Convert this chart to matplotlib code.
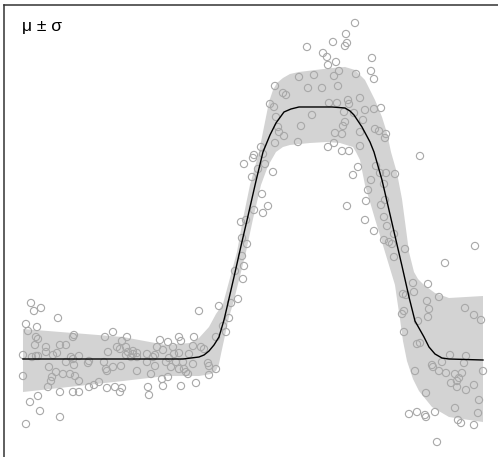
import numpy as np
from matplotlib import pyplot as plt

# observed points
x_obs = [2.84, 3.00, 3.04, 3.05, 3.10, 2.76, 2.91, 2.52, 2.60, 2.63, 2.85, 2.99, 3.06, 2.47, 2.51,
         2.89, 2.53, 2.78, 2.55, 2.56, 2.61, 2.75, 2.52, 3.05, 2.38,
         3.32, 3.23, 3.24, 3.22, 3.13, 3.49, 3.48, 3.51, 3.33, 3.16, 3.11, 3.15, 3.14, 3.25, 3.26,
         3.37, 3.42, 3.51, 3.58, 3.21, 3.31, 3.40, 3.22, 3.20, 3.12, 3.19, 3.37, 3.52, 3.56, 3.63,
         3.62, 3.11, 3.37, 3.19, 3.26, 3.97,
         2.31, 2.30, 2.40, 2.21, 2.42, 2.35, 2.50, 2.29, 2.39, 2.45, 2.31, 2.40, 2.23, 2.18, 2.19,
         2.24, 2.19, 2.21, 2.12, 2.20, 2.15, 2.08, 1.96,
         3.35, 3.30, 3.53, 3.57, 3.63, 3.72, 3.48, 3.61, 3.45, 3.43, 3.24, 3.62, 3.58, 3.61, 3.42,
         3.64, 3.51, 3.71, 3.61, 3.66, 3.69, 3.82, 3.71, 4.52, 4.22, 3.90, 4.05, 3.80, 3.83, 3.91,
         4.16, 4.04,
         0.08, 0.11, 0.18, 0.35, 0.03, 0.05, 0.14, 0.13, 0.15, 0.12, 0.23, 0.23, 0.00, 0.09, 0.13,
         0.15, 0.30, 0.34, 0.37, 0.43, 0.50, 0.51, 0.48, 0.50, 0.56, 0.43, 0.51, 0.66, 0.65, 0.26,
         0.33, 0.40, 0.47, 0.52, 0.29, 0.28, 0.56, 0.00, 0.25, 0.37, 0.50, 0.56, 0.66, 0.71, 0.76,
         0.84, 0.92, 0.97, 0.99, 0.15, 0.07, 0.17, 0.37, 0.03, 0.82, 0.90, 0.85, 0.81, 0.83, 0.84,
         0.90, 0.98, 0.94, 0.97, 0.99, 1.04, 1.03, 1.05, 1.10, 1.10, 1.14, 1.14, 1.03, 1.08, 1.14,
         1.24, 1.24, 1.25, 1.26, 1.30, 1.32, 1.28, 1.37, 1.34, 1.40, 1.39, 1.40, 1.32,
         1.76, 2.06, 2.00, 2.03, 1.93, 1.56, 1.71, 1.58, 1.45, 1.50, 1.70, 1.78, 1.81, 1.51, 1.56,
         1.66, 1.46, 1.43, 1.53, 1.60, 1.70, 1.48, 1.56, 1.61, 1.63, 1.65, 1.85, 1.86, 1.93, 1.86,
         1.45, 1.58, 1.73,
         3.81, 3.79, 4.06, 4.05, 3.95, 4.42, 4.51, 4.58, 3.81, 3.94, 3.97, 4.27, 4.43, 4.19, 4.41,
         4.09, 4.10, 4.16, 4.23, 4.32, 4.39, 4.36, 4.34, 4.28, 4.34, 4.43, 4.51, 4.60, 3.92, 4.03,
         4.56, 4.32, 3.86, 3.94, 4.02, 4.03, 4.12, 4.55, 4.35, 4.38, 4.51, 4.14]
y_obs = [3.12, 3.06, 3.02, 2.94, 3.17, 2.82, 2.84, 2.73, 2.66, 2.64, 2.71, 2.71, 2.56, 2.55, 2.52,
         2.44, 2.42, 2.33, 2.32, 2.27, 2.23, 2.17, 2.16, 2.12, 2.12,
         3.36, 3.25, 3.16, 3.13, 2.97, 3.01, 2.88, 2.80, 2.85, 2.88, 2.83, 2.73, 2.56, 2.59, 2.55,
         2.61, 2.49, 2.50, 2.51, 2.47, 2.46, 2.39, 2.37, 2.33, 2.26, 2.25, 2.27, 2.30, 2.28, 2.25,
         2.21, 2.16, 2.13, 2.08, 2.08, 2.03,
         2.04, 2.01, 2.05, 1.95, 1.95, 1.90, 1.87, 1.82, 1.65, 1.53, 1.49, 1.46, 1.39, 1.37, 1.21,
         1.15, 1.03, 0.93, 0.88, 0.80, 0.60, 0.56, 0.53,
         1.92, 1.84, 1.93, 1.86, 1.86, 1.85, 1.79, 1.75, 1.69, 1.58, 1.53, 1.59, 1.54, 1.42, 1.39,
         1.33, 1.28, 1.25, 1.19, 1.17, 1.15, 1.10, 1.02, 1.13, 0.96, 0.76, 0.75, 0.65, 0.64, 0.67,
         0.62, 0.58,
         0.56, 0.48, 0.51, 0.41, 0.35, 0.28, 0.32, 0.22, 0.20, 0.14, 0.12, 0.07, 0.04, 0.02, 0.03,
         0.03, 0.04, 0.06, 0.14, 0.14, 0.22, 0.24, 0.02, 0.00, 0.03, -0.03, -0.06, -0.02, -0.04, -0.08,
         -0.13, -0.15, -0.15, -0.17, -0.18, -0.22, -0.22, -0.17, -0.28, -0.33, -0.33, -0.33, -0.28, -0.26, -0.23,
         -0.29, -0.28, -0.33, -0.29, -0.37, -0.43, -0.52, -0.58, -0.65, 0.22, 0.27, 0.07, -0.03, -0.10, -0.12,
         -0.08, -0.07, 0.12, 0.10, 0.18, 0.22, 0.12, 0.07, 0.08, 0.05, 0.06, 0.02, 0.04, 0.02, -0.12,
         0.05, -0.03, -0.28, -0.36, 0.02, -0.07, -0.15, 0.19, 0.12, 0.09, -0.20, -0.27, 0.04,
         0.48, 0.41, 0.33, 0.27, 0.22, 0.22, 0.22, 0.18, 0.17, 0.12, 0.13, 0.12, 0.10, 0.05, 0.06,
         0.05, 0.01, -0.03, -0.03, -0.03, -0.05, -0.08, -0.10, -0.10, -0.13, -0.15, -0.04, -0.07, -0.10, -0.16,
         -0.18, -0.27, -0.24,
         0.48, 0.45, 0.50, 0.42, 0.38, 0.51, 0.44, 0.39, 0.27, 0.15, 0.16, 0.04, 0.03, -0.03, -0.04,
         -0.06, -0.08, -0.12, -0.14, -0.15, -0.14, -0.19, -0.22, -0.24, -0.28, -0.31, -0.26, -0.12, -0.12, -0.34,
         -0.41, -0.49, -0.55, -0.53, -0.56, -0.58, -0.53, -0.54, -0.61, -0.64, -0.66, -0.83]

# fitted mean
x_mu = [0.00, 1.00, 1.60, 1.76, 1.81, 1.86, 1.91, 1.96, 2.01, 2.05, 2.11, 2.18, 2.25, 2.33, 2.40,
        2.47, 2.53, 2.61, 2.68, 2.76, 3.09, 3.22, 3.27, 3.31, 3.39, 3.47, 3.51, 3.59, 3.66, 3.72,
        3.79, 3.86, 3.92, 4.01, 4.06, 4.12, 4.19, 4.26, 4.60]
y_mu = [0.00, 0.00, 0.00, 0.02, 0.04, 0.08, 0.14, 0.22, 0.39, 0.56, 0.82, 1.13, 1.43, 1.78, 2.07,
        2.24, 2.36, 2.47, 2.50, 2.52, 2.52, 2.51, 2.48, 2.44, 2.32, 2.17, 2.07, 1.79, 1.49, 1.23,
        0.93, 0.62, 0.38, 0.22, 0.12, 0.05, 0.01, 0.00, -0.01]

# mu + sigma
x_up = [0.00, 1.00, 1.43, 1.67, 1.76, 1.86, 1.93, 2.00, 2.14, 2.20, 2.27, 2.36, 2.43, 2.46, 2.50,
        2.54, 2.60, 2.67, 2.76, 3.09, 3.22, 3.32, 3.42, 3.52, 3.59, 3.64, 3.68, 3.74, 3.79, 3.83,
        3.86, 3.91, 3.95, 4.01, 4.12, 4.26, 4.60]
y_up = [0.30, 0.22, 0.14, 0.16, 0.21, 0.32, 0.45, 0.55, 1.07, 1.40, 1.74, 2.07, 2.42, 2.57, 2.69,
        2.76, 2.81, 2.85, 2.87, 2.91, 2.92, 2.89, 2.79, 2.59, 2.42, 2.26, 2.07, 1.86, 1.60, 1.30,
        1.07, 0.87, 0.80, 0.74, 0.66, 0.61, 0.63]

# mu - sigma
x_lo = [0.00, 1.00, 1.43, 1.76, 1.88, 1.93, 1.96, 1.98, 2.03, 2.06, 2.10, 2.23, 2.30, 2.38, 2.45,
        2.53, 2.60, 2.67, 2.87, 3.04, 3.17, 3.30, 3.33, 3.37, 3.42, 3.52, 3.62, 3.72, 3.74, 3.77,
        3.80, 3.84, 3.90, 3.96, 4.09, 4.26, 4.60]
y_lo = [-0.33, -0.22, -0.17, -0.17, -0.15, -0.12, -0.05, 0.05, 0.28, 0.42, 0.55, 1.07, 1.40, 1.74, 1.93,
        2.07, 2.12, 2.14, 2.16, 2.17, 2.16, 2.12, 2.07, 1.99, 1.74, 1.40, 1.07, 0.74, 0.60, 0.40,
        0.18, -0.02, -0.20, -0.32, -0.48, -0.58, -0.63]


def Band_Plot():
    fig = plt.figure(figsize=(4.98, 4.57), dpi=100)
    ax = fig.add_axes([0.008, -0.0044, 0.996, 0.9924])

    band_x = np.concatenate([x_up, x_lo[::-1]])
    band_y = np.concatenate([y_up, y_lo[::-1]])
    ax.fill(band_x, band_y, color='#d3d3d3', linewidth=0, zorder=1)
    ax.scatter(x_obs, y_obs, s=27, facecolors='none', edgecolors='#a8a8a8', linewidths=0.8, zorder=2)
    ax.plot(x_mu, y_mu, color='k', linewidth=1.0, zorder=3)

    ax.text(-0.01, 3.32, 'μ ± σ', fontsize=12.5, fontname='Liberation Sans', va='center', ha='left')

    ax.set_xlim(-0.19, 4.77)
    ax.set_ylim(-1.00, 3.535)
    ax.set_xticks([])
    ax.set_yticks([])
    for side in ['left', 'top']:
        ax.spines[side].set_color('#333333')
        ax.spines[side].set_linewidth(1.1)
    ax.spines['right'].set_visible(False)
    ax.spines['bottom'].set_visible(False)

    plt.savefig('out.png', dpi=100)


if __name__ == '__main__':
    Band_Plot()
